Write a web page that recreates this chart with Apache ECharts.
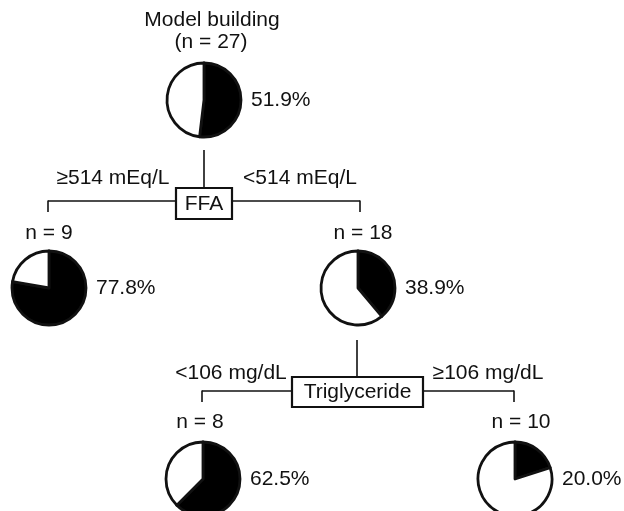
<!DOCTYPE html>
<html>
<head>
<meta charset="utf-8">
<script src="https://cdn.jsdelivr.net/npm/echarts@6/dist/echarts.min.js"></script>
<style>
html,body{margin:0;padding:0;background:#fff;}
#chart{width:624px;height:511px;}
</style>
</head>
<body>
<div id="chart"></div>
<script>
// ---- data ----
const nodeNames = ['root', 'ffaHigh', 'ffaLow', 'tgLow', 'tgHigh'];
const nodeCounts = [27, 9, 18, 8, 10];
const nodePercents = [51.9, 77.8, 38.9, 62.5, 20.0];
const splitNames = ['FFA', 'Triglyceride'];
const splitLeftLabels = ['\u2265514 mEq/L', '<106 mg/dL'];
const splitRightLabels = ['<514 mEq/L', '\u2265106 mg/dL'];
const rootTitle = 'Model building';

// ---- layout (pixels) ----
const centers = [[204, 100], [49, 288], [358, 288], [203, 479], [515, 479]];
const R = 37;
const FONT = '21px "Liberation Sans", Arial, sans-serif';
const INK = '#111';

const series = nodeNames.map((name, i) => ({
  type: 'pie',
  name: name,
  center: centers[i],
  radius: [0, R],
  startAngle: 90,
  clockwise: true,
  silent: true,
  label: { show: false },
  labelLine: { show: false },
  itemStyle: { borderColor: INK, borderWidth: 2.8 },
  emphasis: { disabled: true },
  data: [
    { value: nodePercents[i], itemStyle: { color: '#000' } },
    { value: +(100 - nodePercents[i]).toFixed(1), itemStyle: { color: '#fff' } }
  ]
}));

function text(str, x, y, align) {
  return {
    type: 'text', x: x, y: y, silent: true,
    style: { text: str, font: FONT, fill: INK, align: align || 'center', verticalAlign: 'middle',
             textAlign: align || 'center', textVerticalAlign: 'middle' }
  };
}
function line(x1, y1, x2, y2, w) {
  return { type: 'line', silent: true, shape: { x1, y1, x2, y2 }, style: { stroke: INK, lineWidth: w || 1.6 } };
}
function box(x, y, w, h) {
  return { type: 'rect', silent: true, shape: { x, y, width: w, height: h }, style: { fill: '#fff', stroke: INK, lineWidth: 2.2 } };
}

const g = [];
// root title
g.push(text(rootTitle, 212, 20));
g.push(text('(n = ' + nodeCounts[0] + ')', 211, 42));
// percent labels
nodePercents.forEach((p, i) => g.push(text(p.toFixed(1) + '%', centers[i][0] + 47, centers[i][1], 'left')));
// n labels for children
const nLabelPos = [null, [49, 233], [363, 233], [200, 422], [521, 422]];
for (let i = 1; i < nodeNames.length; i++) g.push(text('n = ' + nodeCounts[i], nLabelPos[i][0], nLabelPos[i][1]));

// split 1: FFA
g.push(line(204, 150, 204, 188));
g.push(line(48, 201, 176, 201));
g.push(line(232, 201, 360, 201));
g.push(line(48, 200.5, 48, 212));
g.push(line(360, 200.5, 360, 212));
g.push(box(176, 188, 56, 31));
g.push(text(splitNames[0], 204, 204));
g.push(text(splitLeftLabels[0], 113, 178));
g.push(text(splitRightLabels[0], 300, 178));

// split 2: Triglyceride
g.push(line(357, 340, 357, 377));
g.push(line(202, 391, 292, 391));
g.push(line(423, 391, 514, 391));
g.push(line(202, 390.5, 202, 402));
g.push(line(514, 390.5, 514, 402));
g.push(box(292, 377, 131, 30));
g.push(text(splitNames[1], 357.5, 392.5));
g.push(text(splitLeftLabels[1], 231, 373));
g.push(text(splitRightLabels[1], 488, 373));

const chart = echarts.init(document.getElementById('chart'), null, { renderer: 'canvas' });
chart.setOption({
  animation: false,
  backgroundColor: '#fff',
  series: series,
  graphic: { elements: g }
});
</script>
</body>
</html>
